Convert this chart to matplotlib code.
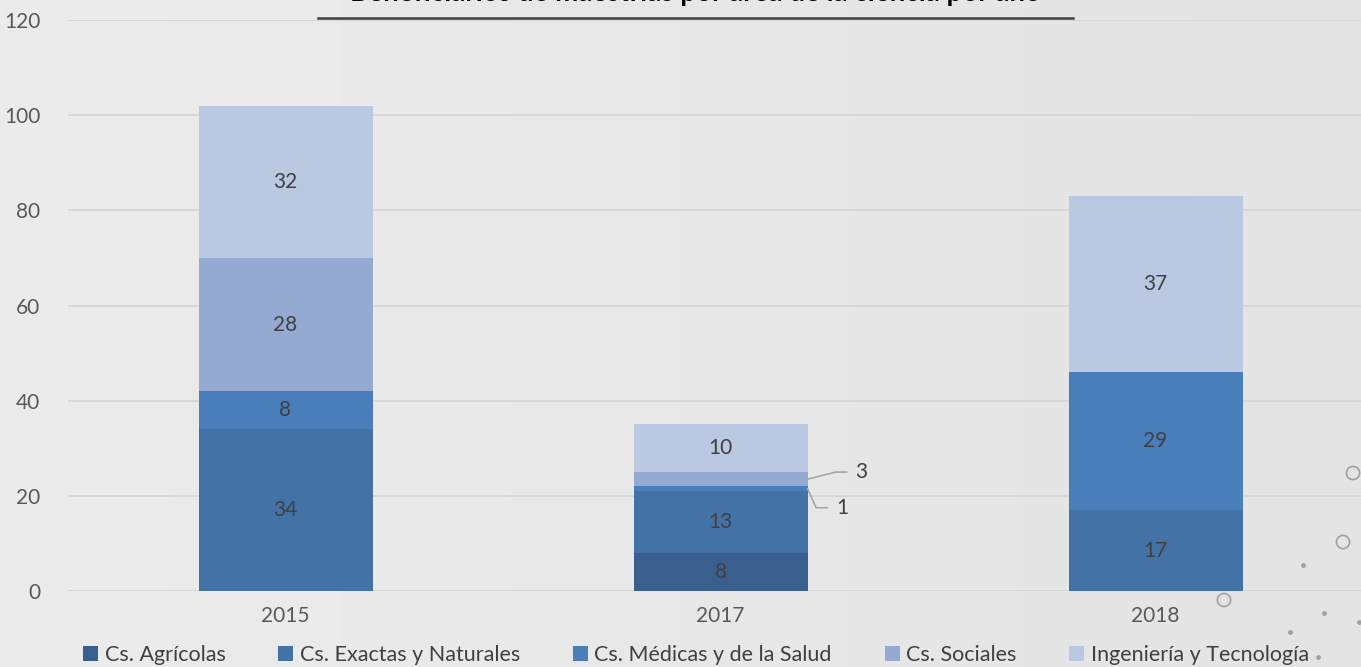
import numpy as np
import matplotlib.pyplot as plt
from matplotlib.lines import Line2D

plt.rcParams['font.family'] = ['Lato', 'DejaVu Sans']

years = ['2015', '2017', '2018']
agricolas = [0, 8, 0]
exactas = [34, 13, 17]
medicas = [8, 1, 29]
sociales = [28, 3, 0]
ingenieria = [32, 10, 37]

series = [agricolas, exactas, medicas, sociales, ingenieria]
names = ['Cs. Agrícolas', 'Cs. Exactas y Naturales', 'Cs. Médicas y de la Salud',
         'Cs. Sociales', 'Ingeniería y Tecnología']
colors = ['#3a5e8d', '#4372a7', '#4a7ebb', '#94aad2', '#bbc8e1']

W, H = 1361, 667
fig = plt.figure(figsize=(W / 100, H / 100), dpi=100)

# background gradient
bg = fig.add_axes([0, 0, 1, 1], zorder=-10)
grad = np.linspace(0, 1, 256).reshape(1, -1)
bg.imshow(grad, aspect='auto', cmap=plt.matplotlib.colors.LinearSegmentedColormap.from_list(
    'g', ['#ececec', '#e4e4e4']), extent=[0, 1, 0, 1])
bg.set_xlim(0, 1)
bg.set_ylim(0, 1)
bg.axis('off')

# decorative circles and dots
bg.scatter([1353 / W, 1343 / W, 1224 / W], [1 - 473 / H, 1 - 542 / H, 1 - 600 / H],
           s=90, facecolors='none', edgecolors='#a0a0a0', lw=1.2)
bg.scatter([1303 / W, 1324 / W, 1290 / W, 1359 / W, 1318 / W],
           [1 - 565 / H, 1 - 613 / H, 1 - 632 / H, 1 - 622 / H, 1 - 657 / H],
           s=6, color='#a0a0a0')

ax = fig.add_axes([68 / W, 76 / H, 1305 / W, 571 / H])
ax.patch.set_alpha(0)
x = np.arange(len(years))
bottom = np.zeros(len(years))
for vals, name, c in zip(series, names, colors):
    vals = np.array(vals)
    ax.bar(x, vals, width=0.4, bottom=bottom, color=c, label=name, zorder=3)
    for i, v in enumerate(vals):
        if v >= 5:
            ax.text(x[i], bottom[i] + v / 2, str(v), ha='center', va='center',
                    fontsize=15, color='#404040', zorder=4)
    bottom = bottom + vals

# small segments of 2017 with leader lines
i = 1
b_med = agricolas[i] + exactas[i]
b_soc = b_med + medicas[i]
ax.plot([x[i] + 0.2, x[i] + 0.265, x[i] + 0.29], [b_soc + sociales[i] / 2, b_soc + sociales[i] / 2 + 1.5,
        b_soc + sociales[i] / 2 + 1.5], color='#a6a6a6', lw=1.2, zorder=4)
ax.text(x[i] + 0.31, b_soc + sociales[i] / 2 + 1.5, str(sociales[i]), ha='left', va='center',
        fontsize=15, color='#404040')
ax.plot([x[i] + 0.2, x[i] + 0.22, x[i] + 0.245], [b_med + medicas[i] / 2, b_med - 3.5, b_med - 3.5],
        color='#a6a6a6', lw=1.2, zorder=4)
ax.text(x[i] + 0.265, b_med - 3.5, str(medicas[i]), ha='left', va='center',
        fontsize=15, color='#404040')

ax.set_xlim(-0.5, 2.5)
ax.set_ylim(0, 120)
ax.set_yticks(np.arange(0, 121, 20))
ax.set_xticks(x)
ax.set_xticklabels(years)
ax.tick_params(length=0, labelsize=15, labelcolor='#595959')
ax.tick_params(axis='x', pad=11)
ax.tick_params(axis='y', pad=20)
ax.grid(axis='y', color='#d4d4d4', lw=1.2, zorder=0)
for s in ax.spines.values():
    s.set_visible(False)

# title, cut at the top edge as in the original
fig.text(0.511, 1 - 1 / H, 'Beneficiarios de maestrías por área de la ciencia por año',
         ha='center', va='baseline', fontsize=20, fontweight='bold', color='#000000')
fig.add_artist(Line2D([318 / W, 1073 / W], [1 - 18 / H, 1 - 18 / H], color='#404040', lw=1.8))

fig.legend(loc='center', bbox_to_anchor=(696 / W, 1 - 655 / H), ncol=5, frameon=False,
           fontsize=15.5, handlelength=0.7, handleheight=0.7, handletextpad=0.3,
           columnspacing=2.45, labelcolor='#404040', borderaxespad=0)

fig.savefig('out.png', dpi=100)
